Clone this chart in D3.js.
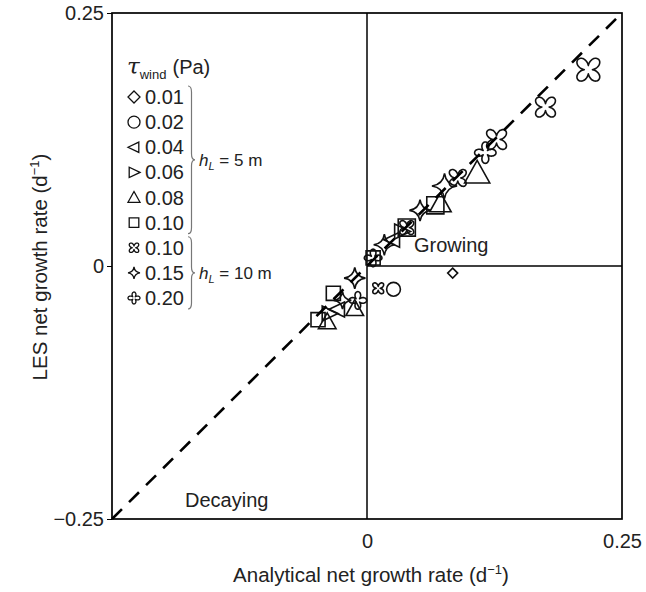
<!DOCTYPE html>
<html>
<head>
<meta charset="utf-8">
<script src="https://cdn.jsdelivr.net/npm/d3@7"></script>
<style>
  body { margin: 0; background: #fff; }
  svg { font-family: "Liberation Sans", Arial, sans-serif; }
</style>
</head>
<body>
<div id="chart"></div>
<script>
// each point: [analytical rate, LES rate, size level]
const tau001 = [[0.084, -0.007, 1]];
const tau002 = [[0.026, -0.023, 2]];
const tau004 = [[-0.029, -0.043, 3], [0.025, 0.026, 3]];
const tau006 = [[-0.037, -0.047, 3], [0.034, 0.034, 3]];
const tau008 = [[-0.039, -0.055, 3], [-0.012, -0.042, 3], [0.072, 0.062, 4], [0.108, 0.092, 5]];
const tau010 = [[-0.048, -0.053, 3], [-0.033, -0.027, 3], [0.006, 0.008, 3], [0.039, 0.038, 4], [0.067, 0.060, 4]];
const tau010deep = [[0.011, -0.022, 2], [0.039, 0.038, 3], [0.089, 0.087, 4], [0.127, 0.125, 5], [0.175, 0.157, 5], [0.217, 0.194, 6]];
const tau015 = [[-0.024, -0.034, 3], [-0.012, -0.012, 4], [0.017, 0.021, 4], [0.052, 0.055, 4], [0.076, 0.079, 5]];
const tau020 = [[-0.009, -0.034, 3], [0.006, 0.008, 3], [0.116, 0.112, 4]];

const tauLabels = ["0.01", "0.02", "0.04", "0.06", "0.08", "0.10", "0.10", "0.15", "0.20"];
const symbols = ["diamond", "circle", "left", "right", "up", "square", "cross", "star", "plus"];
const seriesData = [tau001, tau002, tau004, tau006, tau008, tau010, tau010deep, tau015, tau020];
const mixedLayers = [{ label: "5 m", from: 0, to: 5 }, { label: "10 m", from: 6, to: 8 }];
const axisTicks = [-0.25, 0, 0.25];

const width = 646, height = 592;
const x = d3.scaleLinear().domain([-0.25, 0.25]).range([112, 622]);
const y = d3.scaleLinear().domain([-0.25, 0.25]).range([519, 13]);
const size = d3.scaleLinear().domain([1, 6]).range([10, 29]);

function flower(r, rot) {
  const pts = d3.range(0, 96).map(i => {
    const t = i / 96 * 2 * Math.PI;
    const rho = r * (0.28 + 0.72 * Math.pow((1 + Math.cos(4 * t)) / 2, 0.5));
    return [rho * Math.cos(t + rot), rho * Math.sin(t + rot)];
  });
  return d3.line().curve(d3.curveCardinalClosed)(pts);
}

function shapePath(type, s) {
  const r = s / 2;
  switch (type) {
    case "diamond": return `M0,${-r}L${r},0L0,${r}L${-r},0Z`;
    case "circle": return `M${r},0A${r},${r} 0 1,1 ${-r},0A${r},${r} 0 1,1 ${r},0Z`;
    case "left": return `M${-r},0L${r * 0.8},${-r * 0.85}L${r * 0.8},${r * 0.85}Z`;
    case "right": return `M${r},0L${-r * 0.8},${-r * 0.85}L${-r * 0.8},${r * 0.85}Z`;
    case "up": return `M0,${-r}L${r},${r * 0.8}L${-r},${r * 0.8}Z`;
    case "square": { const a = r * 0.8; return `M${-a},${-a}H${a}V${a}H${-a}Z`; }
    case "star": {
      const c = r * 0.12;
      return `M0,${-r}Q${c},${-c} ${r},0Q${c},${c} 0,${r}Q${-c},${c} ${-r},0Q${-c},${-c} 0,${-r}Z`;
    }
    case "plus": return flower(r, 0);
    case "cross": return flower(r, Math.PI / 4);
  }
}

const svg = d3.select("#chart").append("svg")
  .attr("width", width).attr("height", height);

// frame
svg.append("rect")
  .attr("x", x(-0.25)).attr("y", y(0.25))
  .attr("width", x(0.25) - x(-0.25)).attr("height", y(-0.25) - y(0.25))
  .attr("fill", "none").attr("stroke", "#000").attr("stroke-width", 1.7);

// quadrant lines
svg.append("line")
  .attr("x1", x(0)).attr("x2", x(0)).attr("y1", y(0.25)).attr("y2", y(-0.25))
  .attr("stroke", "#000").attr("stroke-width", 1.5);
svg.append("line")
  .attr("x1", x(0)).attr("x2", x(0.25)).attr("y1", y(0)).attr("y2", y(0))
  .attr("stroke", "#000").attr("stroke-width", 1.5);

const fmt = d => d === 0 ? "0" : (d < 0 ? "\u2212" : "") + Math.abs(d).toFixed(2);

const yAxis = svg.append("g")
  .attr("transform", `translate(${x(-0.25)},0)`)
  .call(d3.axisLeft(y).tickValues(axisTicks).tickSize(5).tickPadding(3).tickFormat(fmt));
yAxis.select(".domain").remove();
yAxis.selectAll("text").style("font-size", "20px").attr("fill", "#222");

const xAxis = svg.append("g")
  .attr("transform", `translate(0,${y(-0.25)})`)
  .call(d3.axisBottom(x).tickValues([0, 0.25]).tickSize(0).tickPadding(15).tickFormat(fmt));
xAxis.select(".domain").remove();
xAxis.selectAll("text").style("font-size", "20px").attr("fill", "#222");

// axis titles
const xt = svg.append("text")
  .attr("x", 371).attr("y", 582).attr("text-anchor", "middle")
  .style("font-size", "20.5px").attr("fill", "#222");
xt.append("tspan").text("Analytical net growth rate (d");
xt.append("tspan").attr("dy", -8).style("font-size", "13px").text("\u22121");
xt.append("tspan").attr("dy", 8).text(")");

const yt = svg.append("text")
  .attr("transform", `translate(47,267) rotate(-90)`).attr("text-anchor", "middle")
  .style("font-size", "20.5px").attr("fill", "#222");
yt.append("tspan").text("LES net growth rate (d");
yt.append("tspan").attr("dy", -8).style("font-size", "13px").text("\u22121");
yt.append("tspan").attr("dy", 8).text(")");

// quadrant labels
svg.append("text").attr("x", 414).attr("y", 252).style("font-size", "20px").attr("fill", "#222").text("Growing");
svg.append("text").attr("x", 185).attr("y", 507).style("font-size", "20px").attr("fill", "#222").text("Decaying");

// markers
seriesData.forEach((pts, i) => {
  svg.append("g").selectAll("path")
    .data(pts)
    .join("path")
    .attr("transform", d => `translate(${x(d[0])},${y(d[1])})`)
    .attr("d", d => shapePath(symbols[i], size(d[2])))
    .attr("fill", "none")
    .attr("stroke", "#111")
    .attr("stroke-width", 1.6);
});

// 1:1 line
svg.append("line")
  .attr("x1", x(-0.25)).attr("y1", y(-0.25)).attr("x2", x(0.25)).attr("y2", y(0.25))
  .attr("stroke", "#000").attr("stroke-width", 2.6).attr("stroke-dasharray", "14,10");

// legend
const lg = svg.append("g");
const title = lg.append("text").attr("x", 127).attr("y", 74).style("font-size", "20px").attr("fill", "#222");
title.append("tspan").style("font-family", "'DejaVu Serif', serif").style("font-style", "italic").style("font-size", "23px").text("\u03c4");
title.append("tspan").attr("dy", 5).style("font-size", "13px").text("wind");
title.append("tspan").attr("dy", -5).attr("dx", 6).text("(Pa)");

const rowY = d3.scaleLinear().domain([0, 8]).range([97, 298]);
tauLabels.forEach((lab, i) => {
  lg.append("path")
    .attr("transform", `translate(134,${rowY(i)})`)
    .attr("d", shapePath(symbols[i], 12))
    .attr("fill", "none").attr("stroke", "#111").attr("stroke-width", 1.3);
  lg.append("text").attr("x", 145).attr("y", rowY(i) + 7).style("font-size", "20px").attr("fill", "#222").text(lab);
});

function brace(x0, y0, y1, w) {
  const m = (y0 + y1) / 2;
  return `M${x0},${y0} Q${x0 + w},${y0} ${x0 + w},${y0 + 6} L${x0 + w},${m - 6} Q${x0 + w},${m} ${x0 + 2 * w},${m}` +
    ` Q${x0 + w},${m} ${x0 + w},${m + 6} L${x0 + w},${y1 - 6} Q${x0 + w},${y1} ${x0},${y1}`;
}

mixedLayers.forEach(g => {
  const y0 = rowY(g.from) - 11, y1 = rowY(g.to) + 11;
  lg.append("path").attr("d", brace(188, y0, y1, 3.5))
    .attr("fill", "none").attr("stroke", "#777").attr("stroke-width", 1.2);
  const t = lg.append("text").attr("x", 199).attr("y", (y0 + y1) / 2 + 6).style("font-size", "17px").attr("fill", "#222");
  t.append("tspan").style("font-style", "italic").text("h");
  t.append("tspan").attr("dy", 4).style("font-size", "11px").style("font-style", "italic").text("L");
  t.append("tspan").attr("dy", -4).text(" = " + g.label);
});
</script>
</body>
</html>
